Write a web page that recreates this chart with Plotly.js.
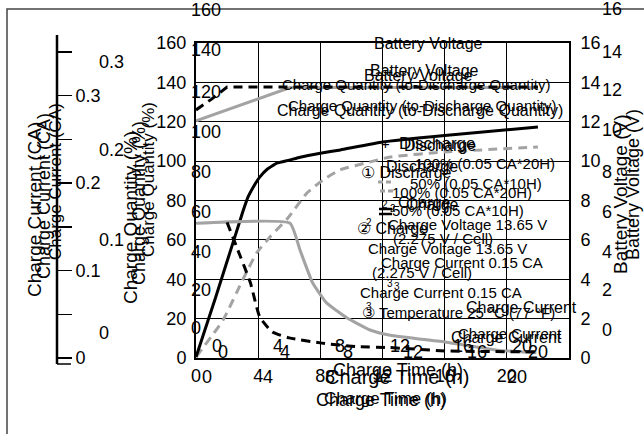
<!DOCTYPE html>
<html><head><meta charset="utf-8">
<script src="https://cdn.plot.ly/plotly-3.0.1.min.js"></script>
<style>html,body{margin:0;padding:0;background:#fff}#chart{width:644px;height:434px}</style>
</head><body><div id="chart"></div>
<script>
// ---- data ----
const voltageHours = [0, 1.25, 2.5, 3.0, 3.35, 3.7, 4.1, 4.6, 5.2, 6.0, 6.7, 8.0, 9.3, 12.0, 16.0, 22.0];
const batteryVoltage = [0.05, 3.05, 6.15, 7.4, 8.18, 8.7, 9.19, 9.6, 9.9, 10.05, 10.2, 10.4, 10.57, 10.97, 11.3, 11.73];

const ratioHours = [0, 1, 2, 22];
const chargeRatio = [126, 131.5, 137.6, 137.6];

const greyUpperHours = [0, 6.05, 22];
const greyUpper = [120.4, 137.4, 137.4];

const quantityHours = [0, 1.74, 3.0, 3.9, 4.76, 5.9, 7.14, 8.17, 9.26, 11.2, 12.5, 16.0, 22.0];
const chargeQuantity = [0.5, 19.3, 39.6, 53.3, 61.5, 71, 83.8, 90.4, 95.5, 99.6, 102.1, 104.6, 107.2];

const currentGreyHours = [0, 6.05, 6.7, 7.5, 8.4, 9.7, 11.2, 12.5, 16.1, 19.4, 21.9];
const currentGrey = [0.154, 0.154, 0.123, 0.086, 0.063, 0.046, 0.032, 0.026, 0.018, 0.009, 0.006];

const currentBlackHours = [2.0, 2.7, 3.5, 4.1, 4.9, 6.0, 8.1, 10.3, 12.4, 16.2, 22.0];
const currentBlack = [0.155, 0.123, 0.086, 0.047, 0.030, 0.023, 0.017, 0.013, 0.012, 0.008, 0.007];

const xTickVals = [0, 4, 8, 12, 16, 20, 24];
const xTickText = ['0', '4', '8', '12', '16', '20', ''];
const caTickVals = [0, 0.05, 0.1, 0.15, 0.2, 0.25, 0.3, 0.35];
const caTickText = ['0', '', '0.1', '', '0.2', '', '0.3', ''];

// ---- layout helpers (pixel -> paper) ----
const PW = 569, PH = 315, BOT = 358;
const px = x => x / PW;
const py = y => (BOT - y) / PH;
const FONT = 'Liberation Sans, Arial, sans-serif';
const NARROW = 'Liberation Sans Narrow, Liberation Sans, Arial, sans-serif';
function A(text, x, y, size, extra) {
  return Object.assign({xref:'paper', yref:'paper', x:px(x), y:py(y), text:text, showarrow:false,
    xanchor:'center', yanchor:'middle', font:{family:FONT, size:size, color:'#000'}}, extra || {});
}
function N(text, x, y, size) { return A(text, x, y, size, {font:{family:NARROW, size:size, color:'#000'}}); }
const grey = '#a3a3a3';

const traces = [
  {x: greyUpperHours, y: greyUpper, mode:'lines', line:{color:grey, width:3}, yaxis:'y'},
  {x: quantityHours, y: chargeQuantity, mode:'lines', line:{color:grey, width:3, dash:'9px,6px', shape:'spline', smoothing:0.5}, yaxis:'y'},
  {x: currentGreyHours, y: currentGrey, mode:'lines', line:{color:grey, width:3, shape:'spline', smoothing:0.4}, yaxis:'y3'},
  {x: ratioHours, y: chargeRatio, mode:'lines', line:{color:'#000', width:3, dash:'9px,6px'}, yaxis:'y'},
  {x: currentBlackHours, y: currentBlack, mode:'lines', line:{color:'#000', width:3, dash:'9px,6px', shape:'spline', smoothing:0.5}, yaxis:'y3'},
  {x: voltageHours, y: batteryVoltage, mode:'lines', line:{color:'#000', width:3, shape:'spline', smoothing:0.3}, yaxis:'y2'}
];

const ann = [];
// axis titles (with ghost copies)
ann.push(A('Charge Time (h)', 381, 400, 18));
ann.push(A('Charge Time (h)', 385, 398, 17));
ann.push(A('Charge Time (h)', 397, 377, 20));
ann.push(A('Charge Time (h)', 398, 370, 18));
ann.push(A('Charge Current (CA)', 34, 210, 19, {textangle:-90}));
ann.push(A('Charge Current (CA)', 44, 196, 18, {textangle:-90}));
ann.push(A('Charge Current (CA)', 55, 182, 17, {textangle:-90}));
ann.push(A('Charge Quantity (%)', 130, 218, 19, {textangle:-90}));
ann.push(A('Charge Quantity (%)', 139, 203, 18, {textangle:-90}));
ann.push(A('Charge Quantity (%)', 148, 180, 17, {textangle:-90}));
ann.push(A('Battery Voltage (V)', 621, 195, 19, {textangle:-90}));
ann.push(A('Battery Voltage (V)', 633, 185, 18, {textangle:-90}));

// ghost tick labels
const gx1 = [217, 278, 340, 400, 463, 522], gx2 = [223, 285, 348, 413, 477, 538];
const gxt = ['0','4','8','12','16','20'];
gxt.forEach((t,i)=>{ ann.push(A(t, gx1[i], 346, 18)); ann.push(A(t, gx2[i], 352, 18)); });
[['0',207],['4',268],['8',330],['20',517]].forEach(p=>ann.push(A(p[0], p[1], 377, 18)));
const gl = [['0',328],['20',290],['40',252],['60',212],['80',172],['100',132],['120',92],['140',50],['160',10]];
gl.forEach(p=>ann.push(A(p[0], 189, p[1], 18, {xanchor:'left'})));
const gr = [['16',9],['14',52],['12',90],['10',130],['8',172],['6',212],['4',252],['2',290],['0',330]];
gr.forEach(p=>ann.push(A(p[0], 600, p[1], 18, {xanchor:'left'})));
const gca = [['0.3',62],['0.2',150],['0.1',240],['0',333]];
gca.forEach(p=>ann.push(A(p[0], 97, p[1], 18, {xanchor:'left'})));

// in-plot labels
ann.push(A('Battery Voltage', 428, 43, 16));
ann.push(A('Battery Voltage', 424, 70, 16));
ann.push(A('Battery Voltage', 418, 75, 16));
ann.push(A('Charge Quantity (to-Discharge Quantity)', 416, 84, 15));
ann.push(A('Charge Quantity (to-Discharge Quantity)', 420, 110, 16));
ann.push(A('Charge Quantity (to-Discharge Quantity)', 422, 106, 15));
ann.push(A('+', 385, 143, 15));
ann.push(A('Discharge', 437, 143, 17));
ann.push(A('Discharge', 440, 145, 16));
ann.push(A('① Discharge', 407, 172, 16));
ann.push(A('Discharge', 422, 166, 16));
ann.push(N('100% (0.05 CA*20H)', 485, 163, 15));
ann.push(N('100% (0.05 CA*20H)', 462, 192, 15));
ann.push(N('50% (0.05 CA*10H)', 476, 183, 15));
ann.push(N('50% (0.05 CA*10H)', 458, 210, 15));
ann.push(A('Charge', 424, 202, 16));
ann.push(A('Charge', 432, 205, 16));
ann.push(A('② Charge', 392, 228, 16));
ann.push(N('Charge Voltage 13.65 V', 467, 225, 15));
ann.push(N('Charge Voltage 13.65 V', 447, 248, 15));
ann.push(N('(2.275 V / Cell)', 443, 238, 15));
ann.push(N('(2.275 V / Cell)', 422, 272, 15));
ann.push(N('Charge Current 0.15 CA', 462, 262, 15));
ann.push(N('Charge Current 0.15 CA', 441, 292, 15));
ann.push(A('③ Temperature 25 °C (77 °F)', 458, 312, 15));
ann.push(A('Charge Current', 521, 307, 16));
ann.push(A('Charge Current', 506, 337, 16));
ann.push(A('Charge Current', 510, 333, 15));
// small superscripts
[['2',385,205],['2',393,208],['2',369,222],['3',390,283],['3',397,286],['3',369,306]].forEach(p=>
  ann.push(A(p[0], p[1], p[2], 10)));

const shapes = [
  // outer frame
  {type:'rect', xref:'paper', yref:'paper', x0:px(7), x1:px(720), y0:py(9), y1:py(520), line:{color:'#444', width:1.5}},
  // charge current axis line and foot
  {type:'line', xref:'paper', yref:'paper', x0:px(57), x1:px(57), y0:py(35), y1:py(364), line:{color:'#000', width:2.5}},
  {type:'line', xref:'paper', yref:'paper', x0:px(57), x1:px(71), y0:py(364), y1:py(364), line:{color:'#000', width:1.5}},
  // legend marks
  {type:'line', xref:'paper', yref:'paper', x0:px(378), x1:px(392), y0:py(182), y1:py(182), line:{color:grey, width:3, dash:'5px,3px'}},
  {type:'line', xref:'paper', yref:'paper', x0:px(380), x1:px(395), y0:py(191), y1:py(191), line:{color:grey, width:3, dash:'5px,3px'}},
  {type:'line', xref:'paper', yref:'paper', x0:px(379), x1:px(392), y0:py(209), y1:py(209), line:{color:'#000', width:2.5}},
  {type:'line', xref:'paper', yref:'paper', x0:px(379), x1:px(392), y0:py(214), y1:py(214), line:{color:'#000', width:2.5}}
];

const tickFont = {family:FONT, size:18, color:'#000'};
const layout = {
  width:644, height:434, margin:{l:0, r:75, t:43, b:76},
  paper_bgcolor:'#fff', plot_bgcolor:'#fff', showlegend:false,
  font:{family:FONT, color:'#000'},
  xaxis:{domain:[196/PW, 1], range:[0,24], tickvals:xTickVals, ticktext:xTickText, showgrid:true,
    gridcolor:'#000', gridwidth:1, showline:true, linecolor:'#000', linewidth:2, mirror:true,
    ticks:'', tickfont:tickFont, zeroline:false, fixedrange:true},
  yaxis:{range:[0,160], dtick:20, showgrid:true, gridcolor:'#000', gridwidth:1, showline:true,
    linecolor:'#000', linewidth:2, ticks:'', tickfont:tickFont, zeroline:false, ticklabelstandoff:4},
  yaxis2:{overlaying:'y', side:'right', range:[0,16], dtick:2, showgrid:false, showline:true,
    linecolor:'#000', linewidth:2, ticks:'', tickfont:tickFont, zeroline:false, ticklabelstandoff:6},
  yaxis3:{overlaying:'y', anchor:'free', position:px(57), side:'right', range:[0,0.36],
    tickvals:caTickVals, ticktext:caTickText, ticks:'outside', ticklen:14, tickwidth:1.5, tickcolor:'#000',
    showline:false, showgrid:false, zeroline:false, tickfont:tickFont},
  annotations: ann, shapes: shapes
};
Plotly.newPlot('chart', traces, layout, {staticPlot:true, displayModeBar:false});
</script></body></html>
